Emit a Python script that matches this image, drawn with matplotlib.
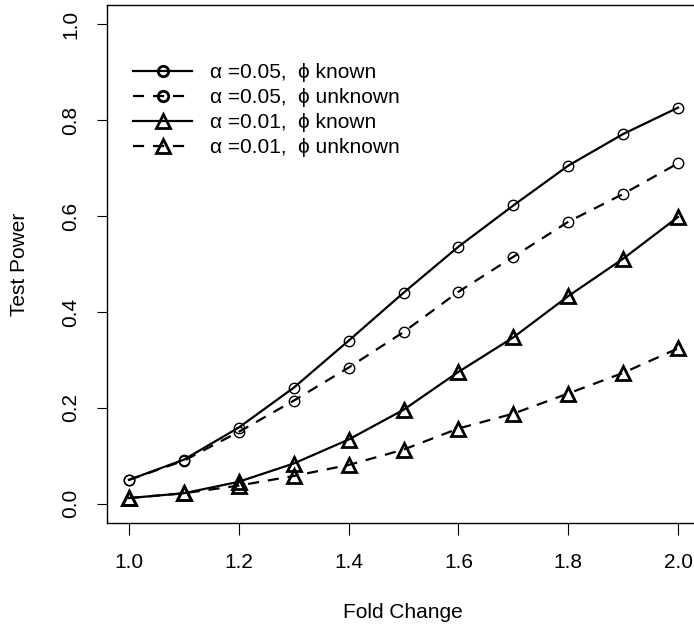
import numpy as np
import matplotlib
matplotlib.use("Agg")
import matplotlib.pyplot as plt

# values
fold_change = [1.0, 1.1, 1.2, 1.3, 1.4, 1.5, 1.6, 1.7, 1.8, 1.9, 2.0]
power_05_known = [0.050, 0.092, 0.159, 0.242, 0.340, 0.440, 0.536, 0.622, 0.705, 0.771, 0.826]
power_05_unknown = [0.050, 0.090, 0.150, 0.215, 0.284, 0.358, 0.442, 0.515, 0.588, 0.646, 0.710]
power_01_known = [0.012, 0.022, 0.046, 0.084, 0.134, 0.196, 0.275, 0.347, 0.433, 0.511, 0.598]
power_01_unknown = [0.012, 0.022, 0.038, 0.058, 0.081, 0.113, 0.157, 0.188, 0.230, 0.273, 0.324]
labels = ["\u03b1 =0.05,  \u03d5 known", "\u03b1 =0.05,  \u03d5 unknown",
          "\u03b1 =0.01,  \u03d5 known", "\u03b1 =0.01,  \u03d5 unknown"]
xticks = [1.0, 1.2, 1.4, 1.6, 1.8, 2.0]
yticks = [0.0, 0.2, 0.4, 0.6, 0.8, 1.0]

plt.rcParams['font.family'] = ['Liberation Sans', 'DejaVu Sans']
FS = 15

W, H = 694, 627
fig = plt.figure(figsize=(W / 100, H / 100), dpi=100)
# box runs past the right edge of the picture, like the reference
ax = fig.add_axes([107 / W, (H - 523) / H, 593 / W, 518 / H])

dash = (0, (5, 4))
circ = dict(marker='o', markersize=7.5, markerfacecolor='none', markeredgecolor='black', markeredgewidth=1.0)
tri = dict(marker='^', markersize=9.5, markerfacecolor='none', markeredgecolor='black', markeredgewidth=2.0)

ax.plot(fold_change, power_05_known, color='black', lw=1.6, ls='-', label=labels[0], **circ)
ax.plot(fold_change, power_05_unknown, color='black', lw=1.6, ls=dash, label=labels[1], **circ)
ax.plot(fold_change, power_01_known, color='black', lw=1.6, ls='-', label=labels[2], **tri)
ax.plot(fold_change, power_01_unknown, color='black', lw=1.6, ls=dash, label=labels[3], **tri)

ax.set_xlim(0.96, 2.04)
ax.set_ylim(-0.04, 1.04)
ax.set_xticks(xticks)
ax.set_xticklabels([f"{v:.1f}" for v in xticks], fontsize=FS)
ax.set_yticks(yticks)
ax.set_yticklabels([f"{v:.1f}" for v in yticks], fontsize=FS, rotation=90, va='center')
ax.tick_params(axis='x', length=8.5, width=0.8, pad=13)
ax.tick_params(axis='y', length=7.5, width=0.8, pad=12)
for sp in ax.spines.values():
    sp.set_linewidth(1.0)

fig.text(403 / W, 1 - 612 / H, "Fold Change", fontsize=FS, ha='center', va='center')
fig.text(20 / W, 1 - 264 / H, "Test Power", fontsize=FS, ha='center', va='center', rotation=90)

leg = ax.legend(loc='upper left', bbox_to_anchor=(133 / W, 1 - 63 / H), bbox_transform=fig.transFigure,
                frameon=False, fontsize=FS, handlelength=2.85, handletextpad=0.87, labelspacing=0.285,
                borderpad=0, borderaxespad=0, numpoints=1)
for h in leg.legend_handles:
    h.set_markeredgewidth(2.0)

fig.savefig("out.png", dpi=100)
